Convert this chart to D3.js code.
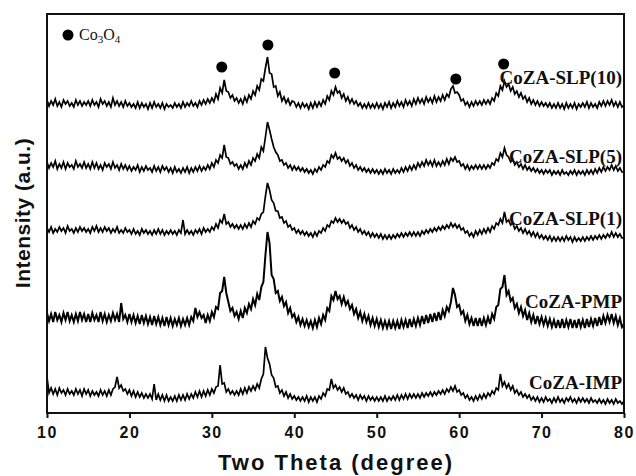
<!DOCTYPE html>
<html>
<head>
<meta charset="utf-8">
<script src="https://cdn.jsdelivr.net/npm/d3@7"></script>
<style>
  body { margin: 0; background: #fff; }
</style>
</head>
<body>
<svg id="chart" width="636" height="476"></svg>
<script>
// 2theta sampled every 0.25 degree, 10 -> 80
const TWO_THETA = d3.range(0, 281).map((i) => 10 + i * 0.25);

const NAMES = ["CoZA-SLP(10)", "CoZA-SLP(5)", "CoZA-SLP(1)", "CoZA-PMP", "CoZA-IMP"];
// stacking offsets (a.u.)
const OFFSETS = [309, 246, 183, 96, 22];

// intensities above each offset (one row = 5 degrees)
const SLP10 = [
  4, -2, 3, -1, 5, -2, 2, -3, 4, 0, 3, -2, 1, -3, 4, -1, 3, -2, 2, -1,
  3, -2, 4, -1, 2, -3, 5, 0, 3, -2, 2, -3, 6, -1, 3, -2, 2, -3, 3, -2,
  1, -3, 0, -4, 2, -4, 1, -3, 0, -5, 1, -4, 2, -3, 0, -4, 1, -5, 0, -3,
  -1, -4, 1, -3, 0, -4, 2, -3, 1, -2, 3, -2, 1, -3, 3, -1, 4, 0, 5, 1,
  6, 2, 10, 5, 16, 11, 24, 13, 12, 6, 9, 3, 6, 1, 5, 0, 7, 2, 9, 5,
  13, 9, 18, 14, 25, 23, 36, 47, 31, 30, 17, 18, 8, 12, 3, 7, 1, 5, -1, 3,
  2, -3, 1, -4, 1, -3, 0, -5, 1, -4, 2, -3, 2, -2, 4, 0, 8, 4, 13, 9,
  17, 11, 13, 6, 10, 3, 7, 1, 5, 0, 3, -2, 1, -4, 0, -4, 1, -4, 0, -4,
  1, -4, 0, -5, 1, -3, 2, -4, 1, -3, 3, -2, 2, -3, 4, -1, 3, -2, 5, 0,
  6, 1, 5, 0, 7, 2, 6, 1, 8, 2, 7, 3, 9, 4, 10, 7, 15, 18, 11, 12,
  9, 3, 5, -1, 2, -3, 2, -2, 3, -1, 3, -1, 4, 0, 4, 0, 6, 3, 11, 8,
  18, 14, 23, 17, 20, 13, 17, 10, 13, 7, 11, 5, 8, 2, 6, 0, 4, -1, 3, -2,
  2, -2, 1, -3, 1, -4, 0, -4, 1, -4, 0, -5, 1, -4, 0, -4, 1, -5, 0, -3,
  1, -3, 2, -4, 1, -3, 0, -4, 2, -2, 3, -2, 3, -1, 4, -2, 2, -3, 2, -3,
  -1
];
const SLP5 = [
  5, -1, 4, 0, 6, -2, 3, -1, 5, -2, 4, 0, 2, -2, 6, 0, 3, -1, 5, -1,
  3, -2, 5, -1, 4, -2, 2, -3, 4, 0, 3, -2, 5, -1, 2, -3, 3, -2, 2, -3,
  1, -4, 0, -3, 2, -5, 0, -4, 1, -3, -1, -5, 1, -4, 0, -5, 1, -3, 0, -5,
  -1, -6, 0, -5, -2, -6, -1, -5, 0, -6, -1, -5, 0, -4, 1, -4, 0, -3, 2, -2,
  4, 0, 7, 4, 12, 9, 22, 10, 9, 3, 5, 1, 3, -2, 2, -2, 4, 0, 6, 2,
  9, 6, 13, 9, 20, 16, 30, 45, 37, 28, 20, 15, 12, 6, 7, 2, 4, -1, 2, -3,
  1, -3, 0, -4, -1, -5, -2, -6, -3, -7, -2, -5, 0, -3, 2, 0, 6, 4, 12, 9,
  14, 8, 10, 6, 9, 4, 7, 1, 4, -1, 2, -3, 0, -4, -1, -5, -2, -6, -2, -6,
  -3, -7, -3, -7, -2, -6, -3, -7, -2, -6, -3, -6, -1, -5, 0, -4, 1, -3, 2, -2,
  4, 0, 5, 1, 7, 2, 6, 1, 7, 1, 5, 1, 6, 2, 8, 3, 9, 6, 10, 5,
  6, 1, 3, -2, 2, -3, 1, -2, 2, -2, 2, -2, 2, -2, 2, -1, 4, 2, 8, 6,
  14, 10, 19, 12, 10, 5, 8, 2, 5, 0, 3, -2, 2, -3, 0, -4, -1, -5, -2, -6,
  -3, -7, -3, -6, -3, -8, -4, -7, -4, -8, -3, -7, -5, -8, -4, -7, -3, -8, -4, -7,
  -4, -8, -3, -7, -3, -7, -2, -6, -1, -5, 0, -4, 0, -3, 2, -3, 1, -4, -1, -5,
  -5
];
const SLP1 = [
  2, -2, 3, -3, 1, -2, 3, -1, 2, -3, 4, -1, 1, -3, 2, -2, 3, -1, 2, -2,
  1, -3, 3, -1, 4, -2, 2, -2, 3, -1, 2, -3, 1, -2, 3, -3, 0, -3, 2, -2,
  0, -4, 1, -4, -1, -5, 1, -3, 0, -4, -1, -5, 0, -4, 1, -4, 0, -5, -1, -4,
  0, -4, -1, -5, 0, -3, 10, -4, 0, -4, -1, -5, 0, -3, 1, -4, 2, -2, 1, -2,
  3, 0, 6, 2, 10, 7, 16, 6, 8, 3, 6, 2, 5, 1, 5, 1, 6, 2, 7, 3,
  9, 6, 12, 10, 16, 18, 34, 47, 40, 30, 27, 19, 19, 12, 13, 7, 9, 3, 5, 0,
  2, -3, 0, -4, -1, -5, -2, -6, -3, -7, -2, -6, -1, -3, 2, -1, 5, 3, 9, 7,
  12, 8, 11, 7, 10, 6, 8, 2, 5, 0, 3, -2, 1, -4, -1, -5, -2, -7, -3, -7,
  -4, -8, -4, -9, -5, -9, -5, -9, -5, -8, -4, -7, -3, -7, -3, -6, -2, -6, -2, -6,
  -2, -6, -1, -4, 0, -3, 1, -2, 2, -1, 3, 0, 4, 1, 5, 2, 7, 3, 6, 2,
  5, 0, 2, -3, -1, -6, -3, -7, -1, -5, 0, -4, 1, -3, 2, -2, 4, 1, 7, 5,
  11, 7, 18, 8, 10, 5, 7, 1, 4, -1, 2, -3, 1, -4, -1, -6, -2, -7, -3, -8,
  -5, -9, -6, -10, -6, -11, -7, -11, -7, -11, -7, -11, -6, -10, -7, -12, -7, -11, -8, -11,
  -7, -11, -7, -10, -6, -10, -6, -9, -5, -9, -5, -8, -4, -7, -2, -7, -3, -7, -4, -8,
  -8
];
const PMP = [
  4, -4, 3, -5, 5, -3, 2, -5, 4, -3, 5, -4, 2, -5, 3, -4, 5, -3, 3, -5,
  3, -5, 4, -3, 2, -5, 5, -4, 3, -5, 2, -4, 4, -3, 3, -5, 14, -2, 2, -5,
  3, -5, 2, -6, 1, -7, 2, -6, 1, -7, 0, -8, 1, -7, 0, -8, -1, -9, 0, -8,
  -1, -9, -2, -8, -1, -9, -2, -8, -1, -8, 0, -4, 9, 0, 5, -1, 2, -6, 2, -4,
  5, 0, 10, 8, 24, 26, 40, 24, 15, 6, 9, 1, 5, -2, 6, -1, 9, 4, 13, 8,
  18, 12, 23, 17, 30, 35, 62, 85, 74, 42, 38, 24, 26, 16, 20, 11, 15, 4, 9, 0,
  3, -5, 0, -8, -2, -9, -3, -10, -4, -11, -3, -10, -1, -7, 2, -3, 9, 6, 21, 17,
  26, 18, 21, 13, 20, 12, 16, 8, 12, 3, 8, -1, 5, -4, 3, -5, 1, -8, -1, -9,
  -2, -10, -3, -11, -4, -11, -4, -12, -4, -11, -4, -12, -3, -10, -3, -11, -2, -10, -2, -9,
  -1, -8, 1, -7, 2, -6, 3, -5, 4, -4, 5, -3, 7, 1, 10, 6, 15, 29, 22, 10,
  12, 3, 6, -4, 2, -7, -1, -9, -1, -9, -1, -9, -1, -8, 0, -7, 3, -2, 10, 12,
  28, 30, 42, 22, 26, 16, 19, 9, 13, 4, 10, 1, 7, -3, 4, -5, 2, -7, 1, -7,
  0, -8, -1, -9, -2, -10, -3, -11, -3, -11, -2, -11, -3, -10, -2, -11, -3, -11, -2, -10,
  -3, -11, -2, -10, -2, -9, -1, -9, 0, -8, 1, -6, 2, -5, 3, -6, 1, -8, -1, -10,
  -7
];
const IMP = [
  14, -2, 3, -3, 2, -4, 3, -2, 1, -4, 2, -3, 0, -4, 2, -3, 1, -5, 2, -3,
  1, -5, 0, -4, -1, -5, 1, -4, 0, -5, 1, -4, 2, 4, 14, 3, 6, 0, 2, -3,
  1, -5, 0, -6, -1, -6, -2, -7, -3, -7, -3, -8, 7, -9, -3, -9, -4, -10, -4, -10,
  -6, -10, -5, -10, -4, -9, -4, -9, -3, -8, -3, -7, -1, -6, 0, -6, 0, -5, 1, -4,
  2, -2, 4, 5, 26, 7, 8, -1, 2, -3, 0, -4, 0, -4, 2, -3, 3, -2, 4, 0,
  5, 1, 7, 3, 12, 17, 44, 33, 27, 16, 13, 4, 5, -2, 1, -5, -1, -7, -3, -8,
  -5, -9, -6, -10, -6, -10, -5, -11, -6, -10, -6, -11, -5, -8, -2, -5, 2, 1, 12, 3,
  6, 1, 4, -1, 3, -3, -1, -6, -3, -7, -4, -9, -4, -8, -5, -10, -5, -9, -6, -10,
  -6, -10, -6, -10, -5, -10, -6, -9, -5, -9, -4, -9, -4, -8, -3, -8, -3, -7, -3, -7,
  -3, -7, -2, -6, -2, -5, -1, -5, -1, -4, 0, -3, 1, -3, 2, -1, 4, 0, 5, -1,
  1, -4, -2, -7, -4, -9, -6, -10, -5, -9, -4, -8, -3, -7, -2, -5, 0, -3, 3, 1,
  17, 5, 9, 3, 7, 1, 5, -2, 1, -4, -1, -6, -3, -7, -4, -9, -6, -10, -6, -11,
  -7, -11, -6, -10, -8, -12, -7, -11, -6, -11, -8, -12, -7, -10, -6, -11, -8, -12, -7, -11,
  -7, -11, -8, -12, -7, -11, -9, -12, -8, -12, -9, -13, -8, -12, -9, -13, -8, -12, -10, -13,
  -10
];
const SERIES = [SLP10, SLP5, SLP1, PMP, IMP];

// Co3O4 reflections marked with dots (2theta, height a.u.)
const PEAK_POS = [31.2, 36.8, 44.9, 59.6, 65.4];
const PEAK_DOT = [346, 368, 340, 334, 349];

const X_TICKS = [10, 20, 30, 40, 50, 60, 70, 80];

const W = 636, H = 476;
const margin = { top: 14, right: 12, bottom: 63, left: 47 };
const LABEL_RISE = [20, 4, 5, 9, 2];

const svg = d3.select("#chart");

const x = d3.scaleLinear().domain([10, 80]).range([margin.left, W - margin.right]);
const y = d3.scaleLinear().domain([0, 399]).range([H - margin.bottom, margin.top]);

const line = d3
  .line()
  .x((d) => x(d[0]))
  .y((d) => y(d[1]));

SERIES.forEach((vals, k) => {
  const pts = vals.map((v, i) => [TWO_THETA[i], OFFSETS[k] + v]);
  svg
    .append("path")
    .attr("d", line(pts))
    .attr("fill", "none")
    .attr("stroke", "#000")
    .attr("stroke-width", k === 3 ? 2 : 1.7);

  svg
    .append("text")
    .attr("x", x(80) - 2)
    .attr("y", y(OFFSETS[k] + LABEL_RISE[k]))
    .attr("text-anchor", "end")
    .attr("font-family", "Liberation Serif, Times New Roman, serif")
    .attr("font-weight", "bold")
    .attr("font-size", "19px")
    .attr("fill", "#111")
    .text(NAMES[k]);
});

// peak dots
svg
  .append("g")
  .selectAll("circle")
  .data(PEAK_POS)
  .join("circle")
  .attr("cx", (d) => x(d))
  .attr("cy", (d, i) => y(PEAK_DOT[i]))
  .attr("r", 5.5)
  .attr("fill", "#000");

// legend
svg.append("circle").attr("cx", 68).attr("cy", 35).attr("r", 5.5).attr("fill", "#000");
const leg = svg
  .append("text")
  .attr("x", 79)
  .attr("y", 40)
  .attr("font-family", "Liberation Serif, Times New Roman, serif")
  .attr("font-size", "16px")
  .attr("fill", "#111");
leg.append("tspan").text("Co");
leg.append("tspan").attr("font-size", "11px").attr("dy", 3).text("3");
leg.append("tspan").attr("dy", -3).text("O");
leg.append("tspan").attr("font-size", "11px").attr("dy", 3).text("4");

// frame
svg
  .append("rect")
  .attr("x", margin.left)
  .attr("y", margin.top)
  .attr("width", W - margin.right - margin.left)
  .attr("height", H - margin.bottom - margin.top)
  .attr("fill", "none")
  .attr("stroke", "#111")
  .attr("stroke-width", 2);

// x axis
const xAxis = svg
  .append("g")
  .attr("transform", `translate(0, ${H - margin.bottom})`)
  .call(d3.axisBottom(x).tickValues(X_TICKS).tickSize(5).tickPadding(9).tickFormat(d3.format("d")));
xAxis.select(".domain").remove();
xAxis.selectAll("line").attr("stroke", "#111").attr("stroke-width", 2);
xAxis
  .selectAll("text")
  .attr("font-family", "Liberation Sans, Arial, sans-serif")
  .attr("font-weight", "bold")
  .attr("font-size", "16px")
  .attr("letter-spacing", "1.5px")
  .attr("fill", "#111");

svg
  .append("text")
  .attr("x", 336)
  .attr("y", 470)
  .attr("text-anchor", "middle")
  .attr("font-family", "Liberation Sans, Arial, sans-serif")
  .attr("font-weight", "bold")
  .attr("font-size", "22px")
  .attr("letter-spacing", "2px")
  .attr("fill", "#111")
  .text("Two Theta (degree)");

svg
  .append("text")
  .attr("transform", "translate(30, 213) rotate(-90)")
  .attr("text-anchor", "middle")
  .attr("font-family", "Liberation Sans, Arial, sans-serif")
  .attr("font-weight", "bold")
  .attr("font-size", "21px")
  .attr("letter-spacing", "0.5px")
  .attr("fill", "#111")
  .text("Intensity (a.u.)");
</script>
</body>
</html>
